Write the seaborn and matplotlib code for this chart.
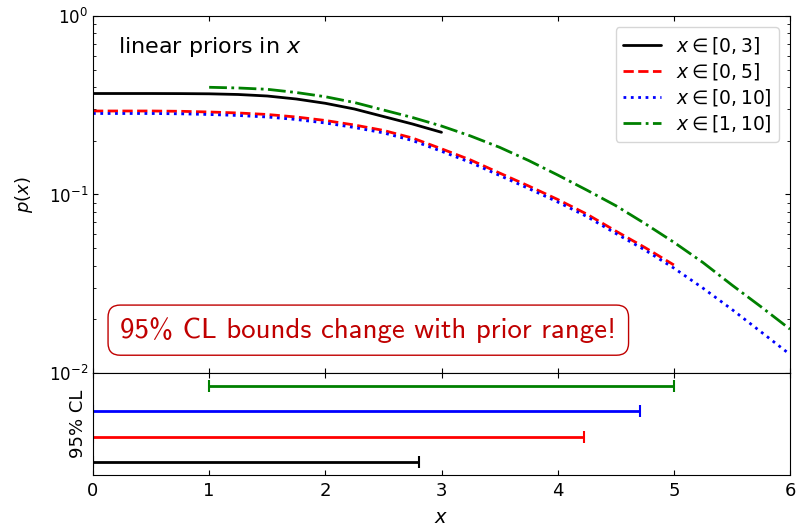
import numpy as np
import pandas as pd
import matplotlib
matplotlib.use("Agg")
import matplotlib.pyplot as plt
import seaborn as sns

# posterior curves (log scale)
x_03 = [0, 0.25, 0.5, 0.75, 1.0, 1.25, 1.5, 1.75, 2.0, 2.25, 2.5, 2.75, 3.0]
p_03 = [0.3679, 0.3679, 0.3679, 0.3675, 0.3665, 0.3633, 0.3563, 0.3428,
        0.3243, 0.3013, 0.2735, 0.2483, 0.2231]

x_05 = [0, 0.25, 0.5, 0.75, 1.0, 1.25, 1.5, 1.75, 2.0, 2.25, 2.5, 2.75, 3.0,
        3.25, 3.5, 3.75, 4.0, 4.25, 4.5, 4.75, 5.0]
p_05 = [0.2936, 0.2936, 0.2936, 0.2925, 0.2899, 0.2862, 0.2807, 0.2717,
        0.2598, 0.2451, 0.2286, 0.2072, 0.1803, 0.1561, 0.1319, 0.1116,
        0.0938, 0.0777, 0.0624, 0.0505, 0.0403]

x_010 = [0, 0.25, 0.5, 0.75, 1.0, 1.25, 1.5, 1.75, 2.0, 2.25, 2.5, 2.75, 3.0,
         3.25, 3.5, 3.75, 4.0, 4.25, 4.5, 4.75, 5.0, 5.25, 5.5, 5.75, 6.0]
p_010 = [0.2843, 0.2843, 0.2843, 0.2832, 0.2807, 0.2771, 0.2717, 0.2631,
         0.2515, 0.2373, 0.2214, 0.2006, 0.1746, 0.1511, 0.1278, 0.1080,
         0.0908, 0.0753, 0.0605, 0.0489, 0.0387, 0.0299, 0.0227, 0.0170,
         0.0127]

x_110 = [1.0, 1.25, 1.5, 1.75, 2.0, 2.25, 2.5, 2.75, 3.0, 3.25, 3.5, 3.75,
         4.0, 4.25, 4.5, 4.75, 5.0, 5.25, 5.5, 5.75, 6.0]
p_110 = [0.3987, 0.3951, 0.3885, 0.3727, 0.3530, 0.3277, 0.2974, 0.2700,
         0.2419, 0.2127, 0.1838, 0.1550, 0.1286, 0.1059, 0.0866, 0.0688,
         0.0540, 0.0416, 0.0311, 0.0235, 0.0176]

labels = [r"$x \in [0, 3]$", r"$x \in [0, 5]$", r"$x \in [0, 10]$", r"$x \in [1, 10]$"]
colors = ["black", "red", "blue", "green"]
styles = ["-", "--", ":", "-."]

# 95% CL intervals
cl_lo = [0.0, 0.0, 0.0, 1.0]
cl_hi = [2.81, 4.23, 4.71, 5.00]

sns.set_style("ticks")
plt.rcParams["font.family"] = ["DejaVu Sans"]
plt.rcParams["xtick.direction"] = "in"
plt.rcParams["ytick.direction"] = "in"
for k in ["text.color", "axes.labelcolor", "xtick.color", "ytick.color", "axes.edgecolor"]:
    plt.rcParams[k] = "black"

fig = plt.figure(figsize=(7.96, 5.28), dpi=100)
gs = fig.add_gridspec(2, 1, height_ratios=[3.5, 1], hspace=0,
                      left=0.1168, right=0.9925, top=0.9697, bottom=0.1004)
ax = fig.add_subplot(gs[0])
ax2 = fig.add_subplot(gs[1], sharex=ax)

curves = [(x_03, p_03), (x_05, p_05), (x_010, p_010), (x_110, p_110)]
for (xs, ps), lab, c, ls in zip(curves, labels, colors, styles):
    df = pd.DataFrame({"x": xs, "p": ps})
    sns.lineplot(data=df, x="x", y="p", ax=ax, color=c, linestyle=ls,
                 linewidth=2, label=lab)

ax.set_yscale("log")
ax.set_ylim(1e-2, 1e0)
ax.set_xlim(0, 6)
ax.set_ylabel(r"$p(x)$", fontsize=13, labelpad=10)
ax.set_xlabel("")
ax.tick_params(axis="both", which="both", top=True, right=True, labelsize=12)
ax.tick_params(axis="x", labelbottom=False)
ax.legend(loc="upper right", fontsize=13.5, frameon=True, labelspacing=0.28,
          borderaxespad=0.6)

ax.text(0.036, 0.913, r"linear priors in $x$", transform=ax.transAxes,
        fontsize=16, ha="left", va="center")
ax.text(0.395, 0.12, "95% CL bounds change with prior range!",
        transform=ax.transAxes, fontsize=20.8, ha="center", va="center",
        color="#c00000", family="cmss10",
        bbox=dict(boxstyle="round,pad=0.42", facecolor="white",
                  edgecolor="#c00000", linewidth=1))

for i, (lo, hi, c) in enumerate(zip(cl_lo, cl_hi, colors)):
    mid = (lo + hi) / 2
    ax2.errorbar([mid], [i], xerr=[[mid - lo], [hi - mid]], fmt="none",
                 ecolor=c, elinewidth=2, capsize=4, capthick=1.5)

ax2.set_ylim(-0.5, 3.5)
ax2.set_yticks([])
ax2.set_xlim(0, 6)
ax2.set_xticks(range(7))
ax2.set_xlabel(r"$x$", fontsize=14, labelpad=6)
ax2.set_ylabel("95% CL", fontsize=13)
ax2.tick_params(axis="x", top=True, labelsize=13, pad=5)

fig.savefig("out.png", dpi=100)
